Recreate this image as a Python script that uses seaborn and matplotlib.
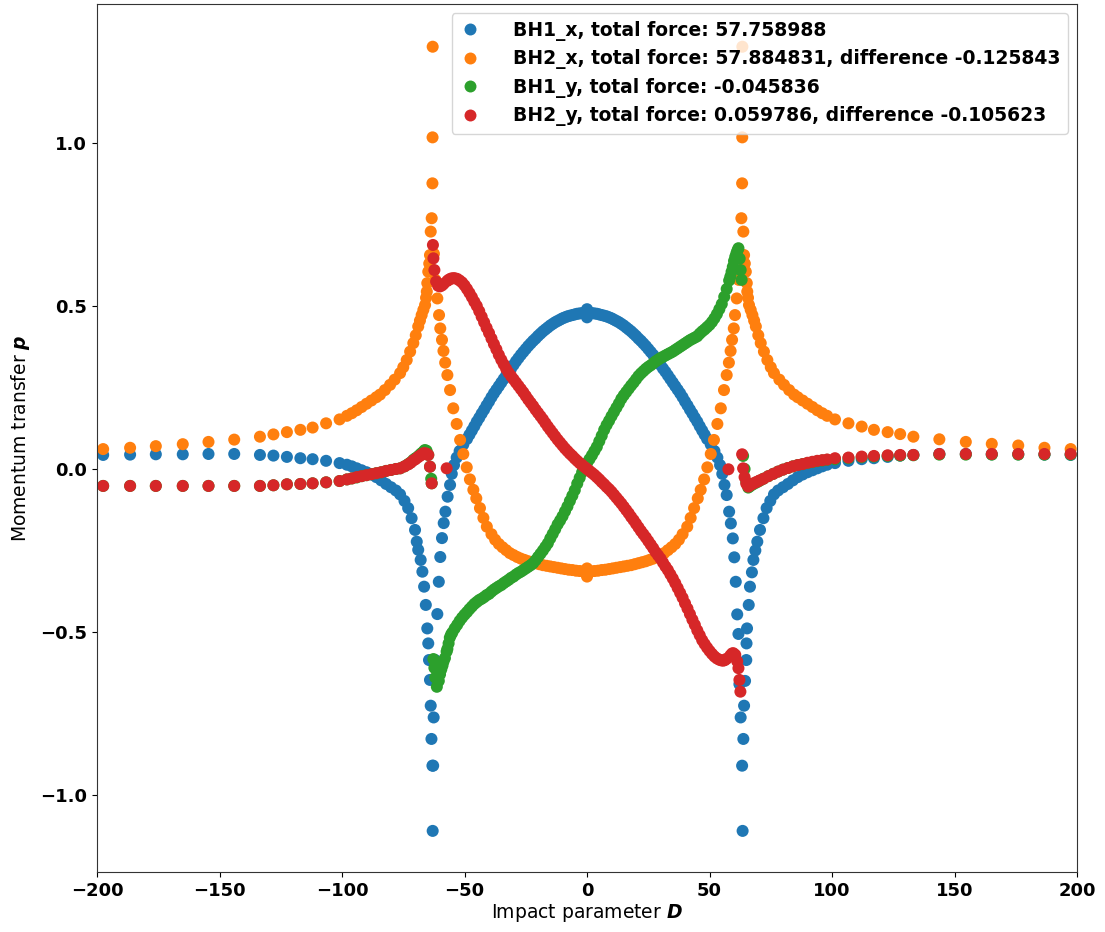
import pandas as pd
import seaborn as sns
import matplotlib.pyplot as plt
from matplotlib.lines import Line2D

# Momentum transfer vs impact parameter

labels = ['BH1_x, total force: 57.758988',
          'BH2_x, total force: 57.884831, difference -0.125843',
          'BH1_y, total force: -0.045836',
          'BH2_y, total force: 0.059786, difference -0.105623']
colors = ['#1f77b4', '#ff7f0e', '#2ca02c', '#d62728']

# BH1_x
d_bh1x = [-197.5, -186.5, -176, -165, -154.5, -144, -133.5, -128, -122.5, -117,
          -112, -106.5, -101, -98, -96, -94, -92, -90, -88, -86,
          -84, -82, -80, -78, -76.3, -74.5, -73, -71.6, -70.2, -69.5,
          -68.9, -67.9, -67.2, -66.5, -65.8, -65.2, -64.8, -64.5, -64.1, -63.8,
          -63.5, -63.1, -63.0, -62.8, -62.6, -62.0, -61.1, -60.5, -59.9, -59.2,
          -58.5, -57.8, -56.9, -55.9, -55.2, -54.3, -53.2, -52.0, -50.5, -49.0,
          -48, -47, -46, -45, -44, -43, -42, -41, -40, -39,
          -38, -37, -36, -35, -34, -33, -32, -31, -30, -29,
          -28, -27, -26, -25, -24, -23, -22, -21, -20, -19,
          -18, -17, -16, -15, -14, -13, -12, -11, -10, -9,
          -8, -7, -6, -5, -4, -3, -2, -1, 0, 0,
          0, 1, 2, 3, 4, 5, 6, 7, 8, 9,
          10, 11, 12, 13, 14, 15, 16, 17, 18, 19,
          20, 21, 22, 23, 24, 25, 26, 27, 28, 29,
          30, 31, 32, 33, 34, 35, 36, 37, 38, 39,
          40, 41, 42, 43, 44, 45, 46, 47, 48,
          49.0, 50.5, 52.0, 53.2, 54.3, 55.2, 56.1, 57.0, 58.0, 58.7,
          59.5, 60.1, 60.7, 61.3, 61.8, 62.2, 62.7, 63.3, 63.5, 63.8,
          64.1, 64.5, 65.0, 65.1, 65.3, 66.0, 66.5, 67.3, 67.9, 68.7,
          69.5, 70.6, 72.0, 73.3, 74.8, 76.3, 78, 80, 82, 84,
          86, 88, 90, 92, 94, 96, 98, 101.2, 106.7, 112.1,
          117.1, 122.7, 127.8, 133.2, 143.8, 154.6, 165.2, 176, 186.7, 197.4]
p_bh1x = [0.043, 0.044, 0.045, 0.045, 0.046, 0.046, 0.043, 0.041, 0.037, 0.033,
          0.030, 0.025, 0.018, 0.013, 0.008, 0.002, -0.004, -0.010, -0.017, -0.025,
          -0.035, -0.046, -0.056, -0.066, -0.078, -0.098, -0.120, -0.151, -0.187, -0.223,
          -0.248, -0.279, -0.315, -0.361, -0.417, -0.489, -0.535, -0.586, -0.647, -0.726,
          -0.828, -0.910, -1.110, -0.910, -0.762, -0.586, -0.445, -0.346, -0.270, -0.212,
          -0.166, -0.131, -0.085, -0.049, -0.015, 0.012, 0.035, 0.055, 0.075, 0.092,
          0.105, 0.118, 0.131, 0.145, 0.157, 0.170, 0.182, 0.195, 0.207, 0.220,
          0.232, 0.243, 0.254, 0.265, 0.276, 0.287, 0.298, 0.308, 0.319, 0.330,
          0.340, 0.350, 0.359, 0.368, 0.377, 0.385, 0.393, 0.400, 0.408, 0.415,
          0.422, 0.428, 0.434, 0.440, 0.445, 0.450, 0.454, 0.458, 0.462, 0.465,
          0.468, 0.470, 0.472, 0.474, 0.476, 0.477, 0.478, 0.478, 0.479, 0.465,
          0.490, 0.478, 0.478, 0.477, 0.476, 0.474, 0.472, 0.470, 0.468, 0.465,
          0.462, 0.458, 0.454, 0.450, 0.445, 0.440, 0.434, 0.428, 0.422, 0.415,
          0.408, 0.400, 0.393, 0.385, 0.377, 0.368, 0.359, 0.350, 0.340, 0.330,
          0.319, 0.308, 0.298, 0.287, 0.276, 0.265, 0.254, 0.243, 0.232, 0.220,
          0.207, 0.195, 0.182, 0.170, 0.157, 0.145, 0.131, 0.118, 0.105,
          0.092, 0.075, 0.055, 0.035, 0.012, -0.015, -0.049, -0.080, -0.131, -0.167,
          -0.213, -0.271, -0.346, -0.446, -0.506, -0.660, -0.762, -0.910, -1.110, -0.828,
          -0.726, -0.650, -0.586, -0.535, -0.489, -0.417, -0.361, -0.317, -0.279, -0.250,
          -0.223, -0.187, -0.151, -0.120, -0.098, -0.078, -0.066, -0.056, -0.046, -0.035,
          -0.025, -0.017, -0.010, -0.004, 0.002, 0.008, 0.013, 0.018, 0.025, 0.030,
          0.033, 0.037, 0.041, 0.043, 0.046, 0.046, 0.045, 0.045, 0.044, 0.043]

# BH2_x
d_bh2x = [-197.5, -186.5, -176, -165, -154.5, -144, -133.5, -128, -122.5, -117,
          -112, -106.5, -101, -98, -96, -94, -92, -90, -88, -86,
          -84.5, -82.5, -80.4, -78.5, -76.3, -75.0, -73.6, -72.2, -70.9, -69.9,
          -68.9, -68.2, -67.5, -66.8, -66.1, -65.7, -65.4, -65.2, -64.8, -64.4,
          -64.1, -63.8, -63.4, -63.1, -63.05, -63.0, -62.5, -61.9, -61.1, -60.4,
          -59.9, -59.2, -58.6, -57.9, -57.0, -55.9, -54.6, -53.2, -51.8, -50.5,
          -49.1, -47.8, -46.4, -45.2, -43.7, -42.3, -40.9, -39.0, -37.5, -36,
          -34.5, -33, -31.5, -30, -28.5, -27, -25.5, -24, -22.5, -21,
          -19.5, -18, -16.5, -15, -13.5, -12, -10.5, -9, -7.5, -6,
          -4.5, -3, -1.5, 0, 0, 0, 1.5, 3, 4.5, 6,
          7.5, 9, 10.5, 12, 13.5, 15, 16.5, 18, 19.5, 21,
          22.5, 24, 25.5, 27, 28.5, 30, 31.5, 33, 34.5, 36,
          37.5, 39.0, 40.9, 42.3, 43.7, 45.2, 46.4, 47.8, 49.1, 50.5,
          51.8, 53.2, 54.6, 55.9, 57.0, 57.9, 58.6, 59.2, 59.9, 60.4,
          61.1, 61.9, 62.5, 63.0, 63.3, 63.35, 63.4, 63.8, 64.1, 64.4,
          64.8, 65.2, 65.4, 65.7, 66.1, 66.8, 67.5, 68.2, 68.9, 69.9,
          70.9, 72.2, 73.6, 75.0, 76.3, 78.5, 80.4, 82.5, 84.5, 86,
          88, 90, 92, 94, 96, 98, 101.2, 106.7, 112.1, 117.1,
          122.7, 127.8, 133.2, 143.8, 154.6, 165.2, 176, 186.7, 197.4]
p_bh2x = [0.061, 0.065, 0.070, 0.076, 0.083, 0.090, 0.099, 0.106, 0.113, 0.120,
          0.127, 0.140, 0.152, 0.163, 0.171, 0.180, 0.190, 0.200, 0.210, 0.220,
          0.228, 0.242, 0.258, 0.274, 0.294, 0.312, 0.334, 0.360, 0.386, 0.410,
          0.437, 0.455, 0.472, 0.488, 0.503, 0.525, 0.544, 0.570, 0.605, 0.630,
          0.656, 0.728, 0.769, 0.876, 1.017, 1.295, 0.660, 0.580, 0.523, 0.472,
          0.431, 0.396, 0.362, 0.326, 0.288, 0.242, 0.186, 0.138, 0.089, 0.046,
          0.005, -0.032, -0.064, -0.090, -0.120, -0.150, -0.177, -0.200, -0.217, -0.230,
          -0.240, -0.249, -0.258, -0.264, -0.270, -0.275, -0.279, -0.283, -0.286, -0.289,
          -0.292, -0.295, -0.297, -0.299, -0.301, -0.303, -0.305, -0.307, -0.309, -0.310,
          -0.312, -0.313, -0.314, -0.315, -0.305, -0.330, -0.314, -0.313, -0.312, -0.310,
          -0.309, -0.307, -0.305, -0.303, -0.301, -0.299, -0.297, -0.295, -0.292, -0.289,
          -0.286, -0.283, -0.279, -0.275, -0.270, -0.264, -0.258, -0.249, -0.240, -0.230,
          -0.217, -0.200, -0.177, -0.150, -0.120, -0.090, -0.064, -0.032, 0.005, 0.046,
          0.089, 0.138, 0.186, 0.242, 0.288, 0.326, 0.362, 0.396, 0.431, 0.472,
          0.523, 0.580, 0.660, 0.769, 0.876, 1.017, 1.295, 0.728, 0.656, 0.630,
          0.605, 0.570, 0.544, 0.525, 0.503, 0.488, 0.472, 0.455, 0.437, 0.410,
          0.386, 0.360, 0.334, 0.312, 0.294, 0.274, 0.258, 0.242, 0.228, 0.220,
          0.210, 0.200, 0.190, 0.180, 0.171, 0.163, 0.152, 0.140, 0.130, 0.120,
          0.113, 0.107, 0.099, 0.091, 0.083, 0.077, 0.072, 0.065, 0.061]

# BH1_y
d_bh1y = [-197.5, -186.5, -176, -165, -154.5, -144, -133.5, -128, -122.5, -117,
          -112, -106.5, -101, -98, -96, -94, -92, -90, -88, -86,
          -84, -82, -80, -78, -76.3, -74.5, -73, -72, -70.9, -70,
          -69, -68.3, -67.6, -66.8, -66.2, -65.5, -64.8, -64.1, -63.6, -63.4,
          -62.7, -62.3, -61.9, -61.3, -60.5, -60, -59.5, -59, -58.6, -58,
          -57.3, -57, -56.5, -56, -55.5, -55, -54, -53, -52, -51,
          -50, -49, -48, -47, -46, -45, -44, -43, -42, -41,
          -40, -39, -38, -37, -36, -35, -34, -33, -32, -31,
          -30, -29, -28, -27, -26, -25, -24, -23, -22, -21,
          -20, -19, -18, -17, -16, -15, -14, -13, -12, -11,
          -10, -9, -8, -7, -6, -5, -4, -3, -2, -1,
          0, 1, 2, 3, 4, 5, 6, 7, 8, 9,
          10, 11, 12, 13, 14, 15, 16, 17, 18, 19,
          20, 21, 22, 23, 24, 25, 26, 27, 28, 29,
          30, 31, 32, 33, 34, 35, 36, 37, 38, 39,
          40, 41, 42, 43, 44, 45, 46, 47, 48, 49,
          50, 51, 52, 53, 54, 55, 56, 57, 58, 58.5,
          59, 59.5, 60, 60.5, 61, 61.4, 61.8, 62.3, 62.7, 63.1,
          63.7, 64.3, 65, 65.8, 66.5, 67.5, 68.5, 69.5, 70.5, 72,
          74, 76, 78, 80, 82, 84, 86, 88, 90, 92,
          94, 96, 98, 101.2, 106.7, 112.1, 117.1, 122.7, 127.8, 133.2,
          143.8, 154.6, 165.2, 176, 186.7, 197.4]
p_bh1y = [-0.052, -0.052, -0.052, -0.052, -0.052, -0.052, -0.052, -0.050, -0.047, -0.046,
          -0.044, -0.041, -0.037, -0.032, -0.029, -0.026, -0.022, -0.019, -0.016, -0.013,
          -0.010, -0.006, -0.003, 0.000, 0.002, 0.008, 0.015, 0.020, 0.028, 0.033,
          0.038, 0.043, 0.048, 0.053, 0.058, 0.056, 0.043, 0.007, -0.030, -0.044,
          -0.583, -0.610, -0.640, -0.668, -0.650, -0.630, -0.615, -0.603, -0.591, -0.580,
          -0.560, -0.552, -0.535, -0.517, -0.508, -0.502, -0.489, -0.478, -0.466, -0.456,
          -0.447, -0.439, -0.430, -0.422, -0.414, -0.408, -0.402, -0.398, -0.393, -0.387,
          -0.383, -0.376, -0.370, -0.365, -0.360, -0.356, -0.350, -0.345, -0.340, -0.334,
          -0.330, -0.324, -0.319, -0.315, -0.310, -0.305, -0.300, -0.295, -0.289, -0.280,
          -0.270, -0.260, -0.250, -0.239, -0.228, -0.213, -0.199, -0.185, -0.170, -0.158,
          -0.145, -0.130, -0.115, -0.098, -0.082, -0.065, -0.045, -0.027, -0.010, 0.005,
          0.018, 0.030, 0.042, 0.055, 0.068, 0.085, 0.102, 0.120, 0.135, 0.148,
          0.162, 0.175, 0.188, 0.201, 0.215, 0.226, 0.236, 0.246, 0.256, 0.265,
          0.275, 0.285, 0.293, 0.300, 0.307, 0.313, 0.318, 0.324, 0.330, 0.335,
          0.340, 0.344, 0.348, 0.352, 0.356, 0.360, 0.365, 0.370, 0.375, 0.380,
          0.385, 0.390, 0.395, 0.399, 0.403, 0.407, 0.415, 0.422, 0.428, 0.435,
          0.442, 0.451, 0.462, 0.475, 0.490, 0.506, 0.528, 0.552, 0.578, 0.590,
          0.605, 0.620, 0.638, 0.651, 0.662, 0.670, 0.677, 0.645, 0.610, 0.580,
          0.040, 0.000, -0.040, -0.057, -0.053, -0.048, -0.044, -0.040, -0.036, -0.030,
          -0.022, -0.015, -0.008, -0.002, 0.003, 0.008, 0.012, 0.015, 0.018, 0.021,
          0.024, 0.026, 0.028, 0.030, 0.033, 0.036, 0.038, 0.040, 0.041, 0.042,
          0.044, 0.044, 0.044, 0.044, 0.044, 0.044]

# BH2_y
d_bh2y = [-197.5, -186.5, -176, -165, -154.5, -144, -133.5, -128, -122.5, -117,
          -112, -106.5, -101, -98, -96, -94, -92, -90, -88, -86,
          -84, -82, -80, -78, -76.3, -74.5, -73, -72, -70.9, -70,
          -69, -68.3, -67.6, -66.8, -66.2, -65.5, -64.8, -64.1, -63.4, -62.9,
          -62.7, -62.3, -61.6, -60.8, -60, -59.2, -58.5, -57.3, -57, -56.3,
          -55.5, -54.7, -54, -53, -52, -51, -50, -49, -48, -47,
          -46, -45, -44, -43, -42, -41, -40, -39, -38, -37,
          -36, -35, -34, -33, -32, -31, -30, -29, -28, -27,
          -26, -25, -24, -23, -22, -21, -20, -19, -18, -17,
          -16, -15, -14, -13, -12, -11, -10, -9, -8, -7,
          -6, -5, -4, -3, -2, -1, 0, 1, 2, 3,
          4, 5, 6, 7, 8, 9, 10, 11, 12, 13,
          14, 15, 16, 17, 18, 19, 20, 21, 22, 23,
          24, 25, 26, 27, 28, 29, 30, 31, 32, 33,
          34, 35, 36, 37, 38, 39, 40, 41, 42, 43,
          44, 45, 46, 47, 48, 49, 50, 51, 52, 53,
          54, 54.8, 55.6, 56.3, 57, 57.7, 58.5, 59.2, 59.7, 60.5,
          61.3, 61.8, 62.2, 62.6, 63.3, 63.7, 64.3, 65, 65.8, 66.5,
          67.5, 68.5, 69.5, 70.5, 72, 74, 76, 78, 80, 82,
          84, 86, 88, 90, 92, 94, 96, 98, 101.2, 106.7,
          112.1, 117.1, 122.7, 127.8, 133.2, 143.8, 154.6, 165.2, 176, 186.7,
          197.4]
p_bh2y = [-0.052, -0.052, -0.052, -0.052, -0.052, -0.052, -0.052, -0.050, -0.047, -0.046,
          -0.044, -0.041, -0.037, -0.032, -0.029, -0.025, -0.022, -0.019, -0.016, -0.013,
          -0.010, -0.006, -0.003, 0.000, 0.002, 0.008, 0.014, 0.019, 0.026, 0.030,
          0.036, 0.040, 0.043, 0.048, 0.048, 0.047, 0.043, 0.007, -0.044, 0.687,
          0.646, 0.610, 0.575, 0.562, 0.560, 0.563, 0.568, 0.002, 0.577, 0.581,
          0.584, 0.585, 0.585, 0.583, 0.578, 0.572, 0.563, 0.552, 0.540, 0.527,
          0.513, 0.500, 0.484, 0.467, 0.450, 0.433, 0.417, 0.400, 0.383, 0.367,
          0.350, 0.335, 0.321, 0.307, 0.295, 0.285, 0.275, 0.265, 0.255, 0.245,
          0.235, 0.224, 0.213, 0.203, 0.193, 0.182, 0.172, 0.162, 0.152, 0.141,
          0.130, 0.120, 0.110, 0.100, 0.090, 0.081, 0.072, 0.063, 0.055, 0.047,
          0.040, 0.032, 0.025, 0.018, 0.012, 0.006, 0.000, -0.006, -0.012, -0.018,
          -0.025, -0.032, -0.040, -0.047, -0.055, -0.062, -0.070, -0.079, -0.088, -0.097,
          -0.106, -0.116, -0.126, -0.136, -0.147, -0.157, -0.168, -0.179, -0.190, -0.200,
          -0.210, -0.221, -0.232, -0.243, -0.255, -0.265, -0.275, -0.287, -0.299, -0.310,
          -0.323, -0.336, -0.350, -0.365, -0.380, -0.395, -0.412, -0.428, -0.445, -0.462,
          -0.478, -0.495, -0.510, -0.525, -0.537, -0.548, -0.558, -0.567, -0.575, -0.581,
          -0.585, -0.587, -0.588, -0.586, -0.582, -0.001, -0.572, -0.566, -0.565, -0.570,
          -0.590, -0.611, -0.647, -0.683, 0.045, 0.002, -0.025, -0.045, -0.054, -0.050,
          -0.046, -0.042, -0.039, -0.035, -0.030, -0.022, -0.015, -0.008, -0.002, 0.003,
          0.008, 0.012, 0.015, 0.019, 0.022, 0.025, 0.027, 0.029, 0.033, 0.035,
          0.038, 0.040, 0.042, 0.043, 0.043, 0.046, 0.046, 0.046, 0.046, 0.046,
          0.046]

# long-form table, drawn in this order so BH2_y ends up on top
frames = []
for lab, d, p in zip(labels, [d_bh1x, d_bh2x, d_bh1y, d_bh2y],
                     [p_bh1x, p_bh2x, p_bh1y, p_bh2y]):
    frames.append(pd.DataFrame({'D': d, 'p': p, 'series': lab}))
df = pd.concat(frames, ignore_index=True)

sns.set_style('ticks')
plt.rcParams['font.family'] = ['DejaVu Sans']
plt.rcParams['mathtext.fontset'] = 'dejavusans'
plt.rcParams['text.color'] = 'black'
plt.rcParams['axes.labelcolor'] = 'black'
plt.rcParams['xtick.color'] = 'black'
plt.rcParams['ytick.color'] = 'black'
plt.rcParams['axes.edgecolor'] = '#333333'

fig, ax = plt.subplots(figsize=(11.05, 9.32), dpi=100)
fig.subplots_adjust(left=0.0878, right=0.9747, bottom=0.0644, top=0.9957)

sns.scatterplot(data=df, x='D', y='p', hue='series', hue_order=labels,
                palette=colors, s=75, linewidth=0, legend=False, ax=ax)

ax.set_xlim(-200, 200)
ax.set_ylim(-1.236, 1.426)
ax.set_xticks([-200, -150, -100, -50, 0, 50, 100, 150, 200])
ax.set_yticks([-1.0, -0.5, 0.0, 0.5, 1.0])
for lbl in ax.get_xticklabels() + ax.get_yticklabels():
    lbl.set_fontweight('bold')
    lbl.set_fontsize(13)
ax.set_xlabel(r'Impact parameter $\boldsymbol{D}$', fontsize=13.5, labelpad=2)
ax.set_ylabel(r'Momentum transfer $\boldsymbol{p}$', fontsize=13.5, labelpad=6)

handles = [Line2D([], [], marker='o', linestyle='', color=c, markersize=8.6,
                  markeredgewidth=0, label=l) for c, l in zip(colors, labels)]
ax.legend(handles=handles, loc='upper right', frameon=True,
          handlelength=1.1, handletextpad=1.75, labelspacing=0.45,
          prop={'weight': 'bold', 'size': 13.5})

fig.savefig('out.png', dpi=100)
